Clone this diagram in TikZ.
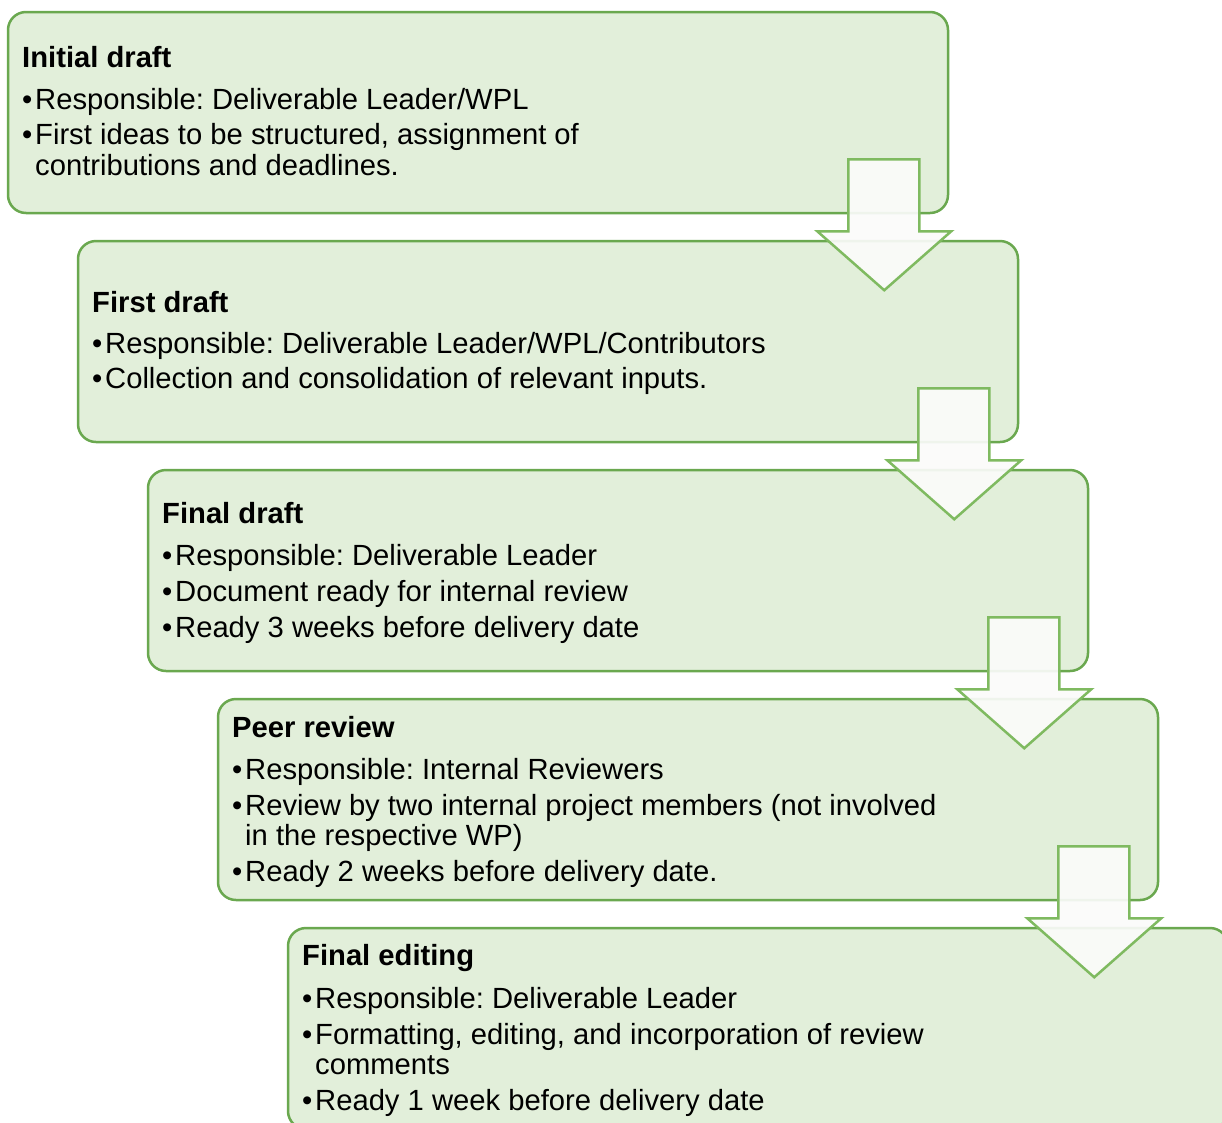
\documentclass[tikz,border=0pt]{standalone}
\usepackage{fontspec}
\setmainfont{Liberation Sans}
\definecolor{boxfill}{HTML}{E2EFDA}
\definecolor{boxline}{HTML}{6AA84F}
\definecolor{arrline}{HTML}{7FBA60}
\definecolor{arrfill}{HTML}{FBFBFA}
\newcommand{\bulletmark}{\makebox[13pt][l]{•}}
\frenchspacing
\begin{document}
\begin{tikzpicture}[x=1pt,y=-1pt,
  stagebox/.style={draw=boxline, fill=boxfill, line width=2.5pt, rounded corners=18pt,
    rectangle, minimum width=940pt, minimum height=201pt, inner sep=0pt},
  flowarrow/.style={draw=arrline, fill=arrfill, fill opacity=0.92, line width=2.5pt, line join=miter},
  txt/.style={anchor=base west, inner sep=0pt, font=\fontsize{29.2}{34}\selectfont},
  ttl/.style={anchor=base west, inner sep=0pt, font=\fontsize{29.2}{34}\selectfont\bfseries}]
\useasboundingbox (0,0) rectangle (1222,1122);
\clip (0,0) rectangle (1222,1122);
% boxes
\foreach \k in {0,...,4} {
  \node[stagebox] (s\k) at ({478+70*\k},{112.5+229*\k}) {};
}
% box 1
\node[ttl] (t1) at (22,67) {Initial draft};
\node[txt] (t1a) at (22,109) {\bulletmark Responsible: Deliverable Leader/WPL};
\node[txt] (t1b) at (22,144) {\bulletmark First ideas to be structured, assignment of};
\node[txt] (t1c) at (35,175) {contributions and deadlines.};
% box 2
\node[ttl] (t2) at (92,312) {First draft};
\node[txt] (t2a) at (92,353) {\bulletmark Responsible: Deliverable Leader/WPL/Contributors};
\node[txt] (t2b) at (92,388) {\bulletmark Collection and consolidation of relevant inputs.};
% box 3
\node[ttl] (t3) at (162,523) {Final draft};
\node[txt] (t3a) at (162,565) {\bulletmark Responsible: Deliverable Leader};
\node[txt] (t3b) at (162,601) {\bulletmark Document ready for internal review};
\node[txt] (t3c) at (162,637) {\bulletmark Ready 3 weeks before delivery date};
% box 4
\node[ttl] (t4) at (232,737) {Peer review};
\node[txt] (t4a) at (232,779) {\bulletmark Responsible: Internal Reviewers};
\node[txt] (t4b) at (232,815) {\bulletmark Review by two internal project members (not involved};
\node[txt] (t4c) at (245,845) {in the respective WP)};
\node[txt] (t4d) at (232,881) {\bulletmark Ready 2 weeks before delivery date.};
% box 5
\node[ttl] (t5) at (302,965) {Final editing};
\node[txt] (t5a) at (302,1008) {\bulletmark Responsible: Deliverable Leader};
\node[txt] (t5b) at (302,1044) {\bulletmark Formatting, editing, and incorporation of review};
\node[txt] (t5c) at (315,1074) {comments};
\node[txt] (t5d) at (302,1110) {\bulletmark Ready 1 week before delivery date};
% arrows
\foreach \k in {0,...,3} {
  \draw[flowarrow, shift={(s\k.south east)}]
    (-101,-55) -- (-30,-55) -- (-30,17) -- (2,17) -- (-65,76) -- (-132,17) -- (-101,17) -- cycle;
}
\end{tikzpicture}
\end{document}
